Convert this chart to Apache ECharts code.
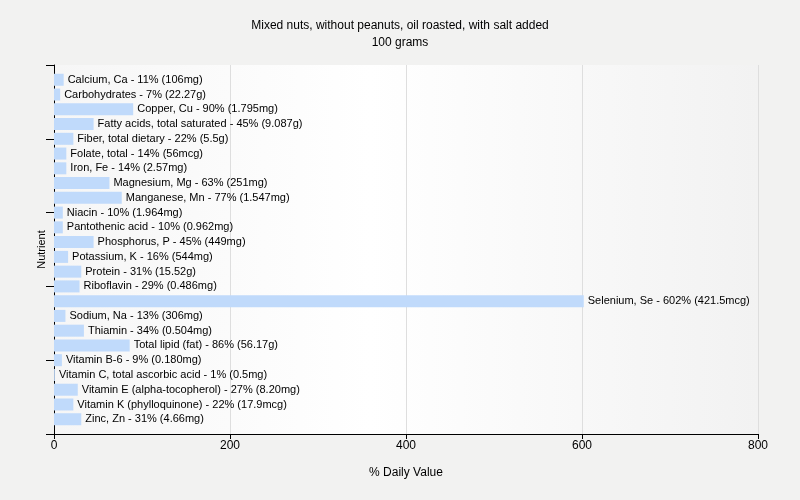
<!DOCTYPE html>
<html>
<head>
<meta charset="utf-8">
<script src="https://cdn.jsdelivr.net/npm/echarts@6/dist/echarts.min.js"></script>
<style>html,body{margin:0;padding:0;background:#f2f2f1;}#c{width:800px;height:500px;}</style>
</head>
<body>
<div id="c"></div>
<script>
var categories = ["Calcium, Ca","Carbohydrates","Copper, Cu","Fatty acids, total saturated","Fiber, total dietary","Folate, total","Iron, Fe","Magnesium, Mg","Manganese, Mn","Niacin","Pantothenic acid","Phosphorus, P","Potassium, K","Protein","Riboflavin","Selenium, Se","Sodium, Na","Thiamin","Total lipid (fat)","Vitamin B-6","Vitamin C, total ascorbic acid","Vitamin E (alpha-tocopherol)","Vitamin K (phylloquinone)","Zinc, Zn"];
var dailyValues = [11,7,90,45,22,14,14,63,77,10,10,45,16,31,29,602,13,34,86,9,1,27,22,31];
var amounts = ["106mg","22.27g","1.795mg","9.087g","5.5g","56mcg","2.57mg","251mg","1.547mg","1.964mg","0.962mg","449mg","544mg","15.52g","0.486mg","421.5mcg","306mg","0.504mg","56.17g","0.180mg","0.5mg","8.20mg","17.9mcg","4.66mg"];
var xTicks = [0,200,400,600,800];

var yCats = [''].concat(categories).concat(['']);
var seriesData = [null];
for (var i = 0; i < categories.length; i++) {
  seriesData.push({value: dailyValues[i], amount: amounts[i], nm: categories[i]});
}
seriesData.push(null);

var chart = echarts.init(document.getElementById('c'));
var font = 'Liberation Sans, Arial, sans-serif';
chart.setOption({
  backgroundColor: '#f2f2f1',
  animation: false,
  title: {
    text: 'Mixed nuts, without peanuts, oil roasted, with salt added',
    subtext: '100 grams',
    left: 'center',
    top: 15,
    itemGap: 5,
    textStyle: {fontSize: 12, fontWeight: 'normal', color: '#000', fontFamily: font},
    subtextStyle: {fontSize: 12, color: '#000', fontFamily: font}
  },
  grid: {
    left: 54, right: 42, top: 65, bottom: 66,
    show: true, borderWidth: 0,
    backgroundColor: new echarts.graphic.LinearGradient(0, 0, 1, 0, [
      {offset: 0, color: '#f6f6f6'},
      {offset: 0.45, color: '#ffffff'},
      {offset: 1, color: '#f2f2f2'}
    ])
  },
  xAxis: {
    type: 'value',
    min: xTicks[0], max: xTicks[xTicks.length - 1], interval: 200,
    name: '% Daily Value', nameLocation: 'middle', nameGap: 33,
    nameTextStyle: {fontSize: 12, color: '#000', fontFamily: font},
    axisLine: {show: true, lineStyle: {color: '#000'}},
    axisTick: {show: true, length: 5, lineStyle: {color: '#000'}},
    axisLabel: {fontSize: 12, color: '#000', fontFamily: font, margin: 6},
    splitLine: {show: true, lineStyle: {color: '#dedede'}}
  },
  yAxis: {
    type: 'category',
    data: yCats,
    inverse: true,
    boundaryGap: false,
    name: 'Nutrient', nameLocation: 'middle', nameGap: 7, nameRotate: 90,
    nameTextStyle: {fontSize: 11, color: '#000', fontFamily: font},
    axisLine: {show: true, lineStyle: {color: '#000'}},
    axisTick: {show: true, interval: 4, length: 8, lineStyle: {color: '#000'}},
    axisLabel: {show: false},
    splitLine: {show: false}
  },
  series: [{
    type: 'bar',
    data: seriesData,
    barWidth: 12,
    itemStyle: {color: '#c0dafb'},
    label: {
      show: true,
      position: 'right',
      distance: 4,
      fontSize: 11,
      color: '#000',
      fontFamily: font,
      formatter: function (p) {
        if (!p.data) return '';
        return p.data.nm + ' - ' + p.data.value + '% (' + p.data.amount + ')';
      }
    }
  }]
});
</script>
</body>
</html>
